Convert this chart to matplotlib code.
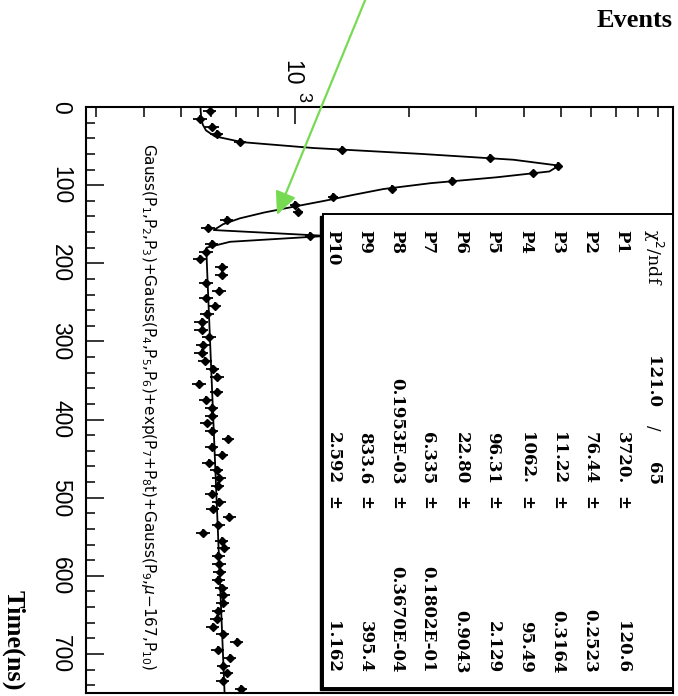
import numpy as np
import matplotlib.pyplot as plt
from matplotlib.patches import Rectangle
from matplotlib.ticker import MultipleLocator, LogLocator, NullFormatter

W, H = 678, 696

# histogram: 10 ns bins from 0 to 750 ns
bin_width = 10
time_ns = np.arange(5, 750, bin_width)
counts = [597, 562, 605, 623, 717, 1330, 3260, 4920, 4230, 2590,
          1800, 1259, 1000, 1018, 662, 590, 1095, 604, 585, 562,
          641, 641, 585, 632, 583, 616, 588, 568, 568, 595,
          574, 568, 580, 607, 624, 560, 622, 583, 604, 604,
          588, 604, 667, 604, 643, 593, 622, 632, 626, 604,
          632, 607, 672, 629, 574, 641, 651, 629, 632, 635,
          629, 641, 648, 645, 629, 622, 607, 645, 703, 626,
          674, 648, 661, 645, 721]

# fit results (stat box)
par_names = ["P1", "P2", "P3", "P4", "P5", "P6", "P7", "P8", "P9", "P10"]
par_vals = ["3720.", "76.44", "11.22", "1062.", "96.31", "22.80",
            "6.335", "0.1953E-03", "833.6", "2.592"]
par_errs = ["120.6", "0.2523", "0.3164", "95.49", "2.129", "0.9043",
            "0.1802E-01", "0.3670E-04", "395.4", "1.162"]
chi2_txt = "121.0"
ndf_txt = "65"
mu3 = 167.0


def fit_func(t, p):
    g1 = p[0] * np.exp(-0.5 * ((t - p[1]) / p[2]) ** 2)
    g2 = p[3] * np.exp(-0.5 * ((t - p[4]) / p[5]) ** 2)
    ex = np.exp(p[6] + p[7] * t)
    g3 = p[8] * np.exp(-0.5 * ((t - mu3) / p[9]) ** 2)
    return g1 + g2 + ex + g3


p = [float(s) for s in par_vals]
t_fit = np.linspace(0, 750, 101)

fig = plt.figure(figsize=(W / 100, H / 100), dpi=100)
ax = fig.add_axes([86 / W, (H - 693) / H, (673 - 86) / W, (693 - 107) / H])


def fpx(x, y):
    return x / W, 1 - y / H


# counts run along x (log), time runs downward
c = np.array(counts, dtype=float)
ax.errorbar(c, time_ns, xerr=np.sqrt(c), yerr=bin_width / 2, fmt="D",
            ms=3.8, color="black", elinewidth=1.3, capsize=0, zorder=3)
ax.plot(fit_func(t_fit, p), t_fit, color="black", lw=1.3, zorder=2)

ax.set_xscale("log")
ax.set_xlim(282, 9880)
ax.set_ylim(750, 0)

for s in ax.spines.values():
    s.set_linewidth(1.5)

ax.yaxis.set_major_locator(MultipleLocator(100))
ax.yaxis.set_minor_locator(MultipleLocator(20))
ax.tick_params(axis="y", which="both", direction="in", left=True, right=False,
               width=1.1, labelsize=16.5, pad=10, labelrotation=-90)
ax.tick_params(axis="y", which="major", length=13)
ax.tick_params(axis="y", which="minor", length=6.5)
for lab in ax.get_yticklabels():
    lab.set_verticalalignment("center")
    lab.set_fontfamily("Liberation Sans")

ax.xaxis.set_major_locator(LogLocator(base=10))
ax.xaxis.set_minor_locator(LogLocator(base=10, subs=np.arange(2, 10)))
ax.xaxis.set_minor_formatter(NullFormatter())
ax.tick_params(axis="x", which="both", direction="in", top=True, bottom=False,
               labeltop=False, labelbottom=False, width=1.1)
ax.tick_params(axis="x", which="major", length=12)
ax.tick_params(axis="x", which="minor", length=7)

# decade label on the top axis, drawn as mantissa + exponent
xt = ax.get_xaxis_transform()
ax.annotate("10", xy=(1000, 1.0), xycoords=xt, xytext=(-3, 21),
            textcoords="offset pixels", rotation=-90, ha="center",
            va="bottom", fontsize=16.5, family="Liberation Sans",
            annotation_clip=False)
ax.annotate("3", xy=(1000, 1.0), xycoords=xt, xytext=(8, 5),
            textcoords="offset pixels", rotation=-90, ha="center",
            va="bottom", fontsize=13, family="Liberation Sans",
            annotation_clip=False)

# axis titles
fig.text(*fpx(673, 27), "Events", ha="right", va="baseline",
         fontsize=19, fontweight="bold", family="Liberation Serif")
fig.text(*fpx(13, 690), "Time(ns)", rotation=-90, ha="center", va="bottom",
         fontsize=19, fontweight="bold", family="Liberation Serif")

# fit function description
fig.text(*fpx(148, 143),
         r"Gauss(P$_1$,P$_2$,P$_3$)+Gauss(P$_4$,P$_5$,P$_6$)+exp(P$_7$+P$_8$t)"
         r"+Gauss(P$_9$,$\mu$$-$167,P$_{10}$)",
         rotation=-90, ha="center", va="top", fontsize=11,
         family="DejaVu Sans")

# stat box with shadow
fig.patches.append(Rectangle(fpx(320, 690), (671 - 320) / W, (690 - 216) / H,
                             transform=fig.transFigure, facecolor="black",
                             edgecolor="black", zorder=4))
fig.patches.append(Rectangle(fpx(323, 688), (673 - 323) / W, (688 - 214) / H,
                             transform=fig.transFigure, facecolor="white",
                             edgecolor="black", lw=1.4, zorder=5))

row_x = [653, 622, 590, 558, 526, 493, 461, 428, 397, 365, 333]
sfont = dict(rotation=-90, ha="center", fontsize=12, family="DejaVu Serif",
             zorder=6)
fig.text(*fpx(row_x[0], 229), "χ$^2$/ndf", va="top",
         **{**sfont, "fontsize": 12.5})
fig.text(*fpx(row_x[0], 408), chi2_txt, va="bottom", fontweight="bold", **sfont)
fig.text(*fpx(row_x[0], 428), "/", va="center", **sfont)
fig.text(*fpx(row_x[0], 485), ndf_txt, va="bottom", fontweight="bold", **sfont)
for x, name, v, e in zip(row_x[1:], par_names, par_vals, par_errs):
    fig.text(*fpx(x, 230), name, va="top", fontweight="bold", **sfont)
    fig.text(*fpx(x, 484), v, va="bottom", fontweight="bold", **sfont)
    fig.text(*fpx(x, 503), "±", va="center", fontweight="bold", **sfont)
    fig.text(*fpx(x, 673), e, va="bottom", fontweight="bold", **sfont)

# pointer arrow
ax.annotate("", xy=fpx(277, 215), xytext=fpx(366, -2),
            xycoords="figure fraction", textcoords="figure fraction",
            arrowprops=dict(arrowstyle="-|>,head_length=1.4,head_width=0.65",
                            color="#76db52", lw=1.6, shrinkA=0, shrinkB=0),
            zorder=7)

fig.savefig("out.png", dpi=100)
